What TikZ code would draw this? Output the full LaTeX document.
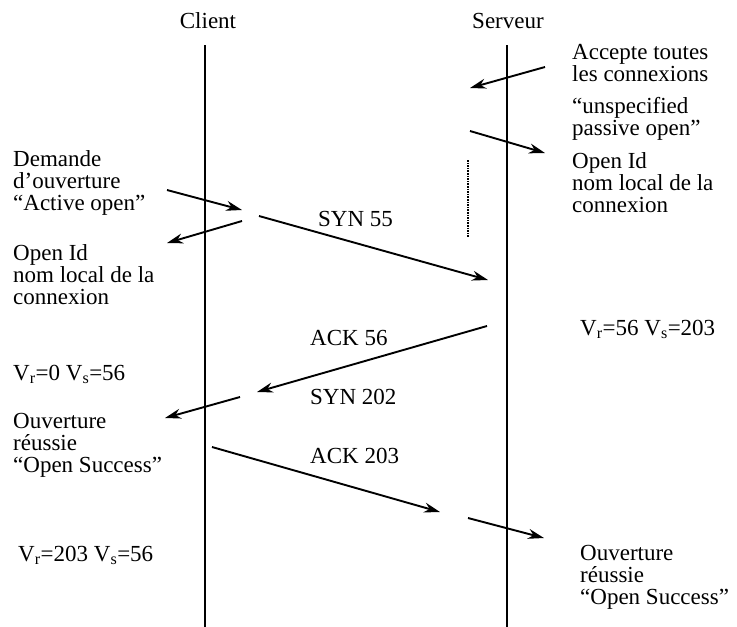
\documentclass[tikz,border=0pt]{standalone}
\usepackage{fontspec}
\setmainfont{Liberation Serif}
\usetikzlibrary{arrows.meta}

\begin{document}
\begin{tikzpicture}[x = 1pt, y = -1pt]
		\tikzstyle{every node} = [font = \fontsize{23}{22}\selectfont, inner sep = 0pt]
		\tikzstyle{note} = [anchor = base west, align = left]
		\tikzstyle{life} = [line width = 1.8pt]
		\tikzstyle{msg} = [line width = 1.9pt, -{Stealth[length = 16pt, width = 10pt]}]
		\useasboundingbox (0,0) rectangle (737,627);

		\node (client) [anchor = base] at (208,28) {Client};
		\node (serveur) [anchor = base] at (508,28) {Serveur};
		\coordinate (c0) at (205,45);
		\coordinate (c1) at (205,627);
		\coordinate (s0) at (507,45);
		\coordinate (s1) at (507,627);
		\draw [life] (c0) -- (c1); %client
		\draw [life] (s0) -- (s1); %serveur

		%notes (base = last line)
		\node (accept) [note] at (572,81) {Accepte toutes\\les connexions};
		\node (passive) [note] at (572,135) {``unspecified\\passive open''};
		\node (sid) [note] at (572,212) {Open Id\\nom local de la\\connexion};
		\node (demande) [note] at (13,210) {Demande\\d'ouverture\\``Active open''};
		\node (cid) [note] at (13,304) {Open Id\\nom local de la\\connexion};
		\node (cok) [note] at (13,472) {Ouverture\\réussie\\``Open Success''};
		\node (sok) [note] at (580,604) {Ouverture\\réussie\\``Open Success''};
		\node (sv1) [note] at (580,335) {V\textsubscript{r}=56 V\textsubscript{s}=203};
		\node (cv1) [note] at (13,380) {V\textsubscript{r}=0 V\textsubscript{s}=56};
		\node (cv2) [note] at (18,561) {V\textsubscript{r}=203 V\textsubscript{s}=56};

		%segments
		\node (syn1) [note] at (318,226) {SYN 55};
		\node (ack1) [note] at (310,345) {ACK 56};
		\node (syn2) [note] at (310,404) {SYN 202};
		\node (ack2) [note] at (310,463) {ACK 203};

		\coordinate (a1) at (545,67);  \coordinate (b1) at (470,88);
		\coordinate (a2) at (470,131); \coordinate (b2) at (545,153);
		\coordinate (a3) at (468,160); \coordinate (b3) at (468,237);
		\coordinate (a4) at (167,190); \coordinate (b4) at (242,210);
		\coordinate (a5) at (242,221); \coordinate (b5) at (167,243);
		\coordinate (a6) at (259,216); \coordinate (b6) at (488,280);
		\coordinate (a7) at (487,326); \coordinate (b7) at (257,392);
		\coordinate (a8) at (240,397); \coordinate (b8) at (165,418);
		\coordinate (a9) at (212,447); \coordinate (b9) at (440,512);
		\coordinate (a10) at (468,518); \coordinate (b10) at (544,538);

		\draw [msg] (a1) -- (b1); %passive open
		\draw [msg] (a2) -- (b2); %open id
		\draw [line width = 1.6pt, densely dotted] (a3) -- (b3);
		\draw [msg] (a4) -- (b4); %active open
		\draw [msg] (a5) -- (b5); %open id
		\draw [msg] (a6) -- (b6); %syn 55
		\draw [msg] (a7) -- (b7); %ack 56
		\draw [msg] (a8) -- (b8); %open success
		\draw [msg] (a9) -- (b9); %ack 203
		\draw [msg] (a10) -- (b10); %open success
	\end{tikzpicture}
\end{document}
